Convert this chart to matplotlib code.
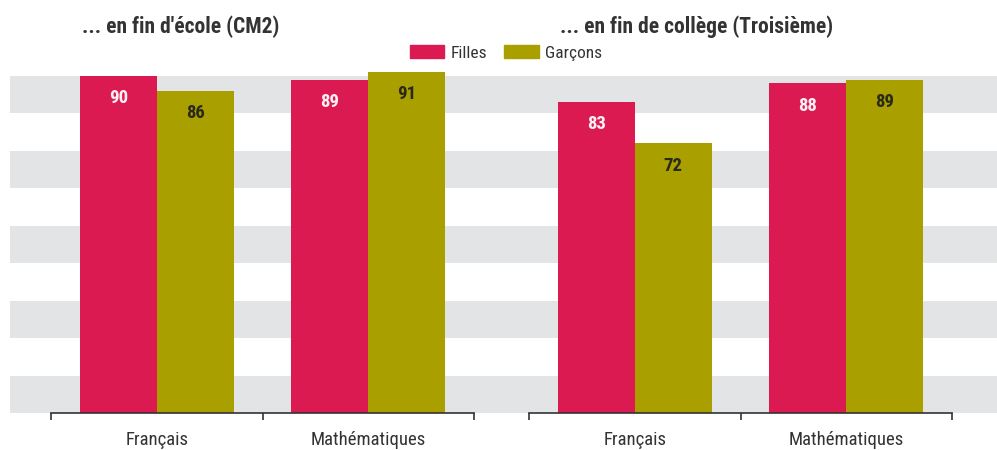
import matplotlib.pyplot as plt
from matplotlib.patches import Patch
from matplotlib import font_manager

# pick a narrow face if one is installed
installed = {f.name for f in font_manager.fontManager.ttflist}
narrow = [n for n in ['Liberation Sans Narrow', 'DejaVu Sans Condensed', 'Roboto Condensed',
                      'Open Sans Condensed', 'Noto Sans Condensed'] if n in installed]
plt.rcParams['font.family'] = narrow + ['DejaVu Sans']

# data
subjects = ['Français', 'Mathématiques']
panel_titles = ["... en fin d'école (CM2)", '... en fin de collège (Troisième)']
filles = [[90, 89], [83, 88]]
garcons = [[86, 91], [72, 89]]
band_edges = [0, 10, 20, 30, 40, 50, 60, 70, 80, 90]

pink = '#DC1A52'
olive = '#A9A000'
band = '#E3E4E6'
txt = '#333333'

W, H = 997, 450
fig = plt.figure(figsize=(W / 100, H / 100), dpi=100)

ymax = 93
base = 413
scale = 337 / 90
top = base - ymax * scale


def rect(x0, x1):
    return [x0 / W, 1 - base / H, (x1 - x0) / W, (base - top) / H]


# gray background bands across the whole width
bg = fig.add_axes(rect(10, W))
bg.set_ylim(0, ymax)
for lo, hi in zip(band_edges[0::2], band_edges[1::2]):
    bg.axhspan(lo, hi, color=band, lw=0)
bg.axis('off')

panels = [(51, 474), (529, 952)]
title_x = [82, 560]
bw = 0.363
for p, (x0, x1) in enumerate(panels):
    ax = fig.add_axes(rect(x0, x1))
    ax.patch.set_visible(False)
    ax.set_xlim(-0.5, 1.5)
    ax.set_ylim(0, ymax)
    xs = range(len(subjects))
    b1 = ax.bar([x - bw / 2 for x in xs], filles[p], bw, color=pink)
    b2 = ax.bar([x + bw / 2 for x in xs], garcons[p], bw, color=olive)
    for bars, col in ((b1, '#FFF0F4'), (b2, '#2a2a1a')):
        for b in bars:
            ax.annotate(str(int(b.get_height())), (b.get_x() + b.get_width() / 2, b.get_height()),
                        xytext=(0, -16), textcoords='offset points', ha='center', va='center',
                        fontsize=13.5, fontweight='bold', color=col)
    for s in ('top', 'right', 'left'):
        ax.spines[s].set_visible(False)
    ax.spines['bottom'].set_color(txt)
    ax.spines['bottom'].set_linewidth(1.2)
    ax.set_yticks([])
    ax.set_xticks(list(xs))
    ax.set_xticklabels(subjects, fontsize=13.5, color=txt)
    ax.tick_params(axis='x', which='major', length=0, pad=13)
    ax.set_xticks([-0.5, 0.5, 1.5], minor=True)
    ax.tick_params(axis='x', which='minor', length=5, width=1.2, color=txt, direction='out')
    fig.text(title_x[p] / W, 1 - 27 / H, panel_titles[p], fontsize=15.5, fontweight='bold',
             color=txt, ha='left', va='center')

handles = [Patch(color=pink, label='Filles'), Patch(color=olive, label='Garçons')]
fig.legend(handles=handles, loc='center', bbox_to_anchor=(506 / W, 1 - 53 / H), ncol=2,
           frameon=False, fontsize=12.5, handlelength=2.0, handleheight=0.7,
           handletextpad=0.35, columnspacing=1.0, labelcolor=txt)

fig.savefig('out.png', dpi=100)
